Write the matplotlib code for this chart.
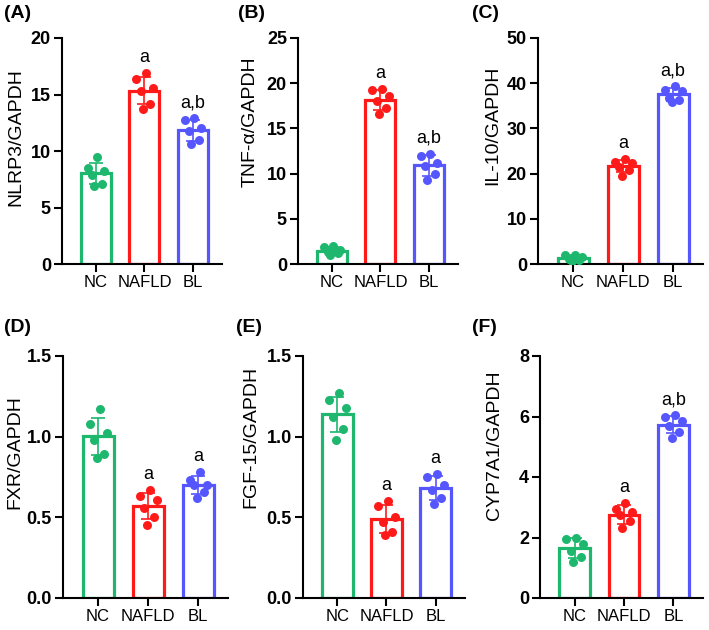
import matplotlib
matplotlib.use('Agg')
import matplotlib.pyplot as plt
import numpy as np

plt.rcParams['font.family'] = ['Liberation Sans', 'DejaVu Sans']

# ---------------- data ----------------
groups = ['NC', 'NAFLD', 'BL']
group_colors = ['#1DB86E', '#FF1A1A', '#5656FF']

nlrp3_nc = [9.5, 8.5, 8.2, 7.9, 7.1, 6.9]
nlrp3_nafld = [16.9, 16.4, 15.6, 15.3, 14.2, 13.7]
nlrp3_bl = [12.9, 12.7, 12.0, 11.8, 11.0, 10.6]
nlrp3_annot = ['', 'a', 'a,b']

tnf_nc = [2.0, 1.9, 1.5, 1.3, 1.2, 1.0]
tnf_nafld = [19.4, 19.2, 18.6, 18.0, 17.3, 16.6]
tnf_bl = [12.2, 12.0, 11.2, 10.8, 10.0, 9.3]
tnf_annot = ['', 'a', 'a,b']

il10_nc = [2.0, 1.9, 1.5, 1.2, 0.9, 0.7]
il10_nafld = [23.3, 22.6, 22.4, 21.5, 20.8, 19.5]
il10_bl = [39.3, 38.5, 38.3, 36.8, 36.3, 35.9]
il10_annot = ['', 'a', 'a,b']

fxr_nc = [1.17, 1.08, 1.02, 0.98, 0.89, 0.87]
fxr_nafld = [0.67, 0.63, 0.61, 0.56, 0.50, 0.45]
fxr_bl = [0.78, 0.73, 0.70, 0.70, 0.66, 0.62]
fxr_annot = ['', 'a', 'a']

fgf_nc = [1.27, 1.23, 1.18, 1.12, 1.05, 0.98]
fgf_nafld = [0.60, 0.57, 0.50, 0.47, 0.41, 0.39]
fgf_bl = [0.77, 0.75, 0.70, 0.67, 0.62, 0.58]
fgf_annot = ['', 'a', 'a']

cyp_nc = [2.0, 1.95, 1.8, 1.55, 1.35, 1.2]
cyp_nafld = [3.15, 2.95, 2.85, 2.75, 2.55, 2.3]
cyp_bl = [6.05, 6.0, 5.85, 5.7, 5.5, 5.3]
cyp_annot = ['', 'a', 'a,b']

panels = [
    ('(A)', 'NLRP3/GAPDH', [nlrp3_nc, nlrp3_nafld, nlrp3_bl], nlrp3_annot, [0, 5, 10, 15, 20], '{:.0f}'),
    ('(B)', 'TNF-α/GAPDH', [tnf_nc, tnf_nafld, tnf_bl], tnf_annot, [0, 5, 10, 15, 20, 25], '{:.0f}'),
    ('(C)', 'IL-10/GAPDH', [il10_nc, il10_nafld, il10_bl], il10_annot, [0, 10, 20, 30, 40, 50], '{:.0f}'),
    ('(D)', 'FXR/GAPDH', [fxr_nc, fxr_nafld, fxr_bl], fxr_annot, [0.0, 0.5, 1.0, 1.5], '{:.1f}'),
    ('(E)', 'FGF-15/GAPDH', [fgf_nc, fgf_nafld, fgf_bl], fgf_annot, [0.0, 0.5, 1.0, 1.5], '{:.1f}'),
    ('(F)', 'CYP7A1/GAPDH', [cyp_nc, cyp_nafld, cyp_bl], cyp_annot, [0, 2, 4, 6, 8], '{:.0f}'),
]

# ---------------- layout (pixels) ----------------
W, H = 709, 630
axes_px = [
    (62, 38, 222, 264),
    (298, 38, 458, 264),
    (538, 38, 703, 264),
    (63, 356, 228, 598),
    (303, 356, 465, 598),
    (540, 356, 703, 598),
]
label_px = [(4, 14), (238, 14), (472, 14), (4, 327), (236, 327), (472, 327)]
ylabel_px = [(16, 137), (250, 122), (493, 125), (15, 452), (251, 437), (494, 445)]

JITTER = [0.03, -0.17, 0.17, -0.08, 0.12, -0.03]

fig = plt.figure(figsize=(W / 100, H / 100), dpi=100)

for i, (plabel, ylabel, data, annot, yticks, fmt) in enumerate(panels):
    l, t, r, b = axes_px[i]
    ax = fig.add_axes([l / W, 1 - b / H, (r - l) / W, (b - t) / H])
    x = np.arange(len(groups))
    means = [np.mean(d) for d in data]
    sds = [np.std(d, ddof=1) for d in data]
    ax.bar(x, means, width=0.62, facecolor='white', edgecolor=group_colors,
           linewidth=2.3, zorder=2)
    for j, d in enumerate(data):
        xs = x[j] + np.array(JITTER[:len(d)])
        ax.scatter(xs, d, s=42, color=group_colors[j], zorder=3, linewidths=0)
        ax.errorbar(x[j], means[j], yerr=sds[j], color=group_colors[j],
                    capsize=4.8, elinewidth=1.2, capthick=1.2, zorder=4, fmt='none')
        if annot[j]:
            top = max(max(d), means[j] + sds[j])
            ax.annotate(annot[j], (x[j], top), xytext=(0, 5), textcoords='offset points',
                        ha='center', va='bottom', fontsize=13)
    ax.set_xlim(-0.7, 2.6)
    ax.set_ylim(yticks[0], yticks[-1])
    ax.set_yticks(yticks)
    ax.set_yticklabels([fmt.format(v) for v in yticks], fontweight='bold', fontsize=13)
    ax.set_xticks(x)
    ax.set_xticklabels(groups, fontsize=12)
    for s in ['top', 'right']:
        ax.spines[s].set_visible(False)
    for s in ['left', 'bottom']:
        ax.spines[s].set_linewidth(1.5)
    ax.tick_params(axis='both', length=6, width=1.5, pad=2)
    fig.text(ylabel_px[i][0] / W, 1 - ylabel_px[i][1] / H, ylabel, fontsize=14,
             rotation=90, ha='center', va='center')
    fig.text(label_px[i][0] / W, 1 - label_px[i][1] / H, plabel, fontsize=14,
             fontweight='bold', ha='left', va='center')

fig.savefig('out.png', dpi=100)
